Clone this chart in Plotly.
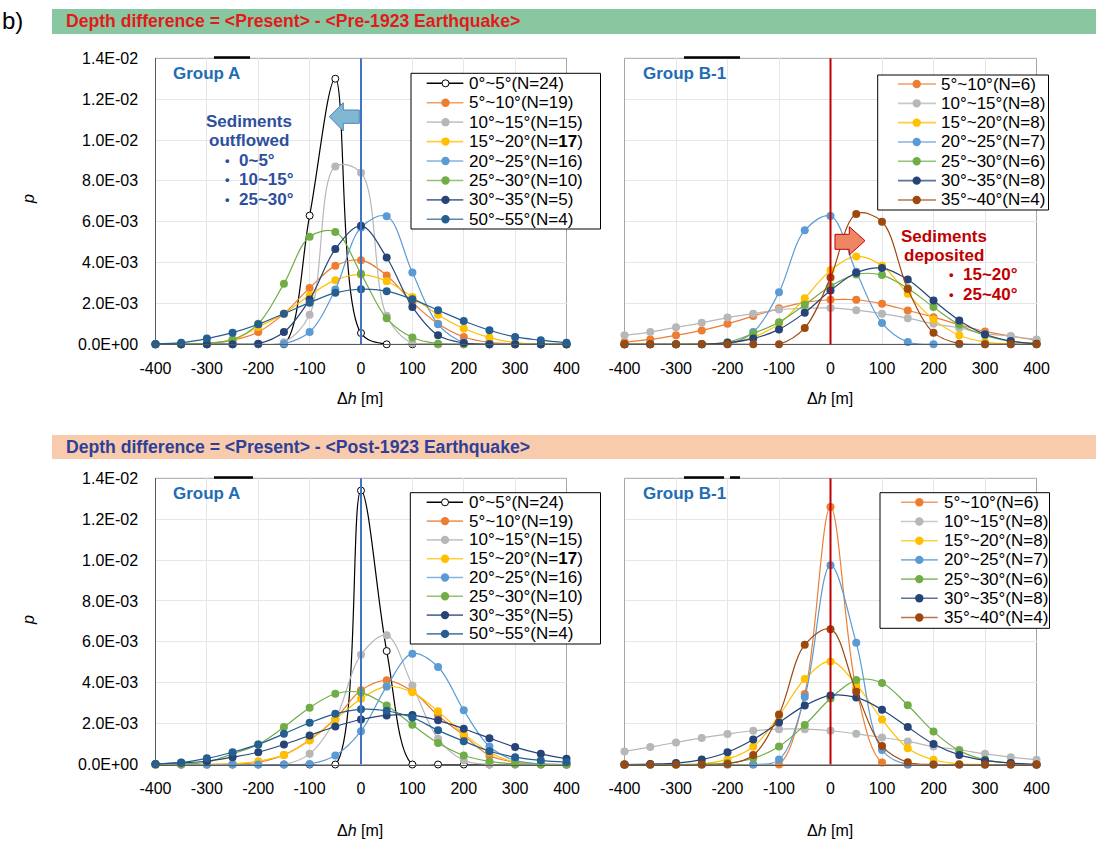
import plotly.graph_objects as go

W, H = 1096, 843

# ---------------- data (p in units of 1E-03) ----------------
dh = [-400, -350, -300, -250, -200, -150, -100, -50, 0, 50, 100, 150, 200, 250, 300, 350, 400]

xtick_vals = [-400, -300, -200, -100, 0, 100, 200, 300, 400]
xtick_text = ['-400', '-300', '-200', '-100', '0', '100', '200', '300', '400']
ytick_vals = [0, 2, 4, 6, 8, 10, 12, 14]
ytick_text = ['0.0E+00', '2.0E-03', '4.0E-03', '6.0E-03', '8.0E-03', '1.0E-02', '1.2E-02', '1.4E-02']

labels_A = ['0°~5°(N=24)', '5°~10°(N=19)', '10°~15°(N=15)', '15°~20°(N=<b>17</b>)',
            '20°~25°(N=16)', '25°~30°(N=10)', '30°~35°(N=5)', '50°~55°(N=4)']
labels_B = ['5°~10°(N=6)', '10°~15°(N=8)', '15°~20°(N=8)', '20°~25°(N=7)',
            '25°~30°(N=6)', '30°~35°(N=8)', '35°~40°(N=4)']

colors_A = ['#000000', '#ed7d31', '#b7b7b7', '#ffc000', '#5b9bd5', '#70ad47', '#264478', '#255e91']
colors_B = ['#ed7d31', '#b7b7b7', '#ffc000', '#5b9bd5', '#70ad47', '#264478', '#9e480e']

# Pre-1923, Group A
preA_0_5   = [0, 0, 0, 0, 0, 0, 6.3, 13.0, 0.55, 0, 0, 0, 0, 0, 0, 0, 0]
preA_5_10  = [0, 0, 0.05, 0.2, 0.6, 1.5, 2.76, 3.84, 4.12, 3.37, 2.05, 1.0, 0.36, 0.1, 0.03, 0, 0]
preA_10_15 = [0, 0, 0, 0, 0, 0.1, 1.45, 8.7, 8.4, 1.4, 0.05, 0, 0, 0, 0, 0, 0]
preA_15_20 = [0, 0, 0.05, 0.2, 0.85, 1.5, 2.4, 3.14, 3.41, 3.09, 2.32, 1.45, 0.77, 0.33, 0.08, 0.02, 0]
preA_20_25 = [0, 0, 0, 0, 0, 0.03, 0.6, 2.68, 5.72, 6.27, 3.51, 0.98, 0.1, 0, 0, 0, 0]
preA_25_30 = [0, 0, 0.05, 0.23, 1.0, 2.97, 5.26, 5.5, 3.45, 1.27, 0.33, 0.03, 0, 0, 0, 0, 0]
preA_30_35 = [0, 0, 0, 0, 0.03, 0.6, 2.19, 4.66, 5.8, 4.25, 1.83, 0.44, 0.06, 0, 0, 0, 0]
preA_50_55 = [0.02, 0.08, 0.28, 0.57, 0.98, 1.5, 2.04, 2.52, 2.7, 2.6, 2.2, 1.67, 1.14, 0.69, 0.36, 0.2, 0.07]

# Pre-1923, Group B-1
preB_5_10  = [0.11, 0.24, 0.44, 0.68, 1.0, 1.38, 1.76, 2.05, 2.18, 2.18, 1.98, 1.66, 1.33, 0.96, 0.63, 0.4, 0.2]
preB_10_15 = [0.44, 0.6, 0.83, 1.05, 1.31, 1.5, 1.7, 1.76, 1.78, 1.67, 1.5, 1.28, 1.0, 0.8, 0.52, 0.4, 0.24]
preB_15_20 = [0, 0, 0, 0.02, 0.03, 0.35, 1.0, 2.26, 3.62, 4.3, 3.85, 2.47, 1.22, 0.44, 0.11, 0.02, 0]
preB_20_25 = [0, 0, 0, 0, 0, 0.6, 2.55, 5.58, 6.28, 3.55, 1.04, 0.11, 0, 0, 0, 0, 0]
preB_25_30 = [0, 0, 0, 0.02, 0.1, 0.53, 1.08, 1.93, 2.84, 3.42, 3.39, 2.74, 1.82, 0.96, 0.44, 0.15, 0.03]
preB_30_35 = [0, 0, 0, 0, 0.08, 0.28, 0.73, 1.55, 2.63, 3.5, 3.73, 3.17, 2.14, 1.17, 0.49, 0.16, 0.03]
preB_35_40 = [0, 0, 0, 0, 0, 0, 0, 0.8, 3.27, 6.38, 6.0, 2.71, 0.57, 0.03, 0, 0, 0]

# Post-1923, Group A
postA_0_5   = [0, 0, 0, 0, 0, 0, 0, 0, 13.4, 5.55, 0, 0, 0, 0, 0, 0, 0]
postA_5_10  = [0, 0, 0, 0.03, 0.11, 0.47, 1.2, 2.24, 3.63, 4.12, 3.58, 2.4, 1.42, 0.44, 0.11, 0.02, 0]
postA_10_15 = [0, 0, 0, 0, 0, 0, 0.52, 2.2, 5.37, 6.32, 3.86, 1.26, 0.2, 0, 0, 0, 0]
postA_15_20 = [0, 0, 0, 0.03, 0.16, 0.47, 1.18, 2.19, 3.22, 3.82, 3.53, 2.6, 1.5, 0.6, 0.11, 0.02, 0]
postA_20_25 = [0, 0, 0, 0, 0, 0, 0.03, 0.44, 1.63, 3.82, 5.42, 4.77, 2.65, 0.88, 0.2, 0.03, 0]
postA_25_30 = [0, 0.02, 0.11, 0.52, 0.98, 1.83, 2.78, 3.46, 3.52, 2.89, 1.94, 1.05, 0.44, 0.15, 0.03, 0, 0]
postA_30_35 = [0.03, 0.08, 0.16, 0.36, 0.6, 0.98, 1.42, 1.86, 2.2, 2.4, 2.42, 2.16, 1.75, 1.29, 0.85, 0.52, 0.28]
postA_50_55 = [0.03, 0.1, 0.3, 0.6, 0.98, 1.5, 2.04, 2.48, 2.7, 2.63, 2.3, 1.67, 1.14, 0.65, 0.36, 0.2, 0.11]

# Post-1923, Group B-1
postB_5_10  = [0, 0, 0, 0, 0, 0, 0, 3.45, 12.6, 3.7, 0.1, 0, 0, 0, 0, 0, 0]
postB_10_15 = [0.64, 0.85, 1.08, 1.3, 1.49, 1.65, 1.73, 1.73, 1.65, 1.5, 1.32, 1.13, 0.88, 0.72, 0.52, 0.36, 0.23]
postB_15_20 = [0, 0, 0, 0.03, 0.26, 0.87, 2.38, 4.18, 5.04, 3.92, 2.2, 0.8, 0.23, 0.03, 0, 0, 0]
postB_20_25 = [0, 0, 0, 0, 0, 0, 0.24, 3.3, 9.75, 5.95, 0.71, 0, 0, 0, 0, 0, 0]
postB_25_30 = [0, 0, 0, 0.02, 0.07, 0.3, 0.88, 1.93, 3.23, 4.13, 3.99, 2.9, 1.61, 0.68, 0.23, 0.07, 0]
postB_30_35 = [0, 0.02, 0.07, 0.24, 0.6, 1.22, 2.05, 2.88, 3.38, 3.28, 2.68, 1.83, 1.0, 0.47, 0.2, 0.07, 0]
postB_35_40 = [0, 0, 0, 0, 0.03, 0.46, 2.45, 5.86, 6.62, 3.56, 0.9, 0.11, 0, 0, 0, 0, 0]

panel_series = {
    1: [preA_0_5, preA_5_10, preA_10_15, preA_15_20, preA_20_25, preA_25_30, preA_30_35, preA_50_55],
    2: [preB_5_10, preB_10_15, preB_15_20, preB_20_25, preB_25_30, preB_30_35, preB_35_40],
    3: [postA_0_5, postA_5_10, postA_10_15, postA_15_20, postA_20_25, postA_25_30, postA_30_35, postA_50_55],
    4: [postB_5_10, postB_10_15, postB_15_20, postB_20_25, postB_25_30, postB_30_35, postB_35_40],
}
panel_labels = {1: labels_A, 2: labels_B, 3: labels_A, 4: labels_B}
panel_colors = {1: colors_A, 2: colors_B, 3: colors_A, 4: colors_B}

FONT = 'Liberation Sans, Arial, sans-serif'


def px(x):
    return x / W


def py(y):
    return 1 - y / H


# panel geometry (pixels)
XL = [155.5 / W, 566.5 / W]
XR = [624.5 / W, 1036.5 / W]
YT = [py(344.3), py(58.3)]
YB = [py(764.5), py(478.3)]
doms = {1: (XL, YT), 2: (XR, YT), 3: (XL, YB), 4: (XR, YB)}

fig = go.Figure()

for p in (1, 2, 3, 4):
    xa = 'x' if p == 1 else f'x{p}'
    ya = 'y' if p == 1 else f'y{p}'
    for i, vals in enumerate(panel_series[p]):
        c = panel_colors[p][i]
        hollow = (c == '#000000')
        fig.add_trace(go.Scatter(
            x=dh, y=vals, mode='lines+markers', xaxis=xa, yaxis=ya,
            name=panel_labels[p][i], showlegend=False, cliponaxis=False,
            line=dict(shape='spline', smoothing=1, width=1.2, color=c),
            marker=dict(size=7 if hollow else 8, color='white' if hollow else c,
                        line=dict(width=1 if hollow else 0, color=c)),
        ))

layout = dict(width=W, height=H, margin=dict(l=0, r=0, t=0, b=0, autoexpand=False),
              paper_bgcolor='white', plot_bgcolor='white',
              font=dict(family=FONT, color='#000000', size=16), showlegend=False)

for p in (1, 2, 3, 4):
    xd, yd = doms[p]
    xk = 'xaxis' if p == 1 else f'xaxis{p}'
    yk = 'yaxis' if p == 1 else f'yaxis{p}'
    xa = 'x' if p == 1 else f'x{p}'
    ya = 'y' if p == 1 else f'y{p}'
    layout[xk] = dict(domain=xd, anchor=ya, range=[-400, 400], tickvals=xtick_vals, ticktext=xtick_text,
                      showgrid=True, gridcolor='#e6e6e6', gridwidth=1, zeroline=False,
                      showline=True, linecolor='#595959', linewidth=1.3, ticks='', automargin=False,
                      tickfont=dict(size=16, color='#000000', family=FONT), ticklabelstandoff=9,
                      fixedrange=True)
    left = p in (1, 3)
    layout[yk] = dict(domain=yd, anchor=xa, range=[0, 14], tickvals=ytick_vals, ticktext=ytick_text,
                      showgrid=True, gridcolor='#e6e6e6', gridwidth=1, zeroline=False,
                      showline=left, linecolor='#595959', linewidth=1.3, ticks='', automargin=False,
                      showticklabels=left, tickfont=dict(size=16, color='#000000', family=FONT),
                      ticklabelstandoff=13, fixedrange=True)

fig.update_layout(**layout)

shapes = []
annots = []

# header bars
shapes.append(dict(type='rect', xref='paper', yref='paper', x0=px(52), x1=1, y0=py(34), y1=py(9),
                   fillcolor='#88c79f', line=dict(width=0), layer='below'))
shapes.append(dict(type='rect', xref='paper', yref='paper', x0=px(52), x1=1, y0=py(459), y1=py(435),
                   fillcolor='#f8cbad', line=dict(width=0), layer='below'))
annots.append(dict(xref='paper', yref='paper', x=px(64), y=py(21), xanchor='left', yanchor='middle',
                   text='<b>Depth difference = &lt;Present&gt; - &lt;Pre-1923 Earthquake&gt;</b>',
                   showarrow=False, font=dict(size=17.6, color='#e31a1c', family=FONT)))
annots.append(dict(xref='paper', yref='paper', x=px(64), y=py(447), xanchor='left', yanchor='middle',
                   text='<b>Depth difference = &lt;Present&gt; - &lt;Post-1923 Earthquake&gt;</b>',
                   showarrow=False, font=dict(size=17.6, color='#2e3f9a', family=FONT)))
annots.append(dict(xref='paper', yref='paper', x=0, y=py(20), xanchor='left', yanchor='middle',
                   text='b)', showarrow=False, font=dict(size=24, color='#000000', family=FONT)))

# frames, zero lines
for p in (1, 2, 3, 4):
    xa = 'x' if p == 1 else f'x{p}'
    ya = 'y' if p == 1 else f'y{p}'
    shapes.append(dict(type='rect', xref=f'{xa} domain', yref=f'{ya} domain', x0=0, x1=1, y0=0, y1=1,
                       line=dict(color='#a6a6a6', width=1), fillcolor='rgba(0,0,0,0)', layer='below'))
    zc = '#4472c4' if p in (1, 3) else '#c00000'
    shapes.append(dict(type='line', xref=xa, yref=f'{ya} domain', x0=0, x1=0, y0=0, y1=1,
                       line=dict(color=zc, width=2), layer='above'))

# small black remnants on top borders
for (x0, x1, yy) in [(214, 250, 57.5), (684, 740, 57.5), (214, 253, 477.5), (684, 724, 477.5), (730, 740, 477.5)]:
    shapes.append(dict(type='line', xref='paper', yref='paper', x0=px(x0), x1=px(x1), y0=py(yy), y1=py(yy),
                       line=dict(color='#000000', width=2.5), layer='above'))

# axis titles
for (cx, cy) in [(360, 398), (830, 398), (360, 830), (830, 830)]:
    annots.append(dict(xref='paper', yref='paper', x=px(cx), y=py(cy), xanchor='center', yanchor='middle',
                       text='Δ<i>h</i> [m]', showarrow=False, font=dict(size=16, color='#000000', family=FONT)))
for cy in (199, 620):
    annots.append(dict(xref='paper', yref='paper', x=px(28), y=py(cy), xanchor='center', yanchor='middle',
                       text='<i>p</i>', textangle=-90, showarrow=False,
                       font=dict(size=16, color='#000000', family=FONT)))

# group labels
for (gx, gy, gt) in [(170.5, 73, 'Group A'), (640.5, 73, 'Group B-1'), (170.5, 493.5, 'Group A'),
                     (640.5, 493.5, 'Group B-1')]:
    annots.append(dict(xref='paper', yref='paper', x=px(gx), y=py(gy), xanchor='left', yanchor='middle',
                       text=f'<b>{gt}</b>', showarrow=False, font=dict(size=17, color='#1f6db3', family=FONT)))


def path(points):
    s = 'M ' + ' L '.join(f'{px(a):.5f},{py(b):.5f}' for a, b in points) + ' Z'
    return s


# blue arrow (left)
shapes.append(dict(type='path', xref='paper', yref='paper',
                   path=path([(329.3, 116.7), (343.3, 102.7), (343.3, 110), (359.3, 110), (359.3, 123.3),
                              (343.3, 123.3), (343.3, 131)]),
                   fillcolor='#80b8d4', line=dict(color='#4f81bd', width=1), layer='above'))
# red arrow (right)
shapes.append(dict(type='path', xref='paper', yref='paper',
                   path=path([(835, 234.3), (849.3, 234.3), (849.3, 226.7), (865, 240.7), (849.3, 255),
                              (849.3, 249.3), (835, 249.3)]),
                   fillcolor='#ee8563', line=dict(color='#c00000', width=1), layer='above'))

blue_t = '#2e4f9e'
red_t = '#c00000'
for (tx, ty, tt) in [(248.5, 122, 'Sediments'), (248.8, 140.5, 'outflowed')]:
    annots.append(dict(xref='paper', yref='paper', x=px(tx), y=py(ty), xanchor='center', yanchor='middle',
                       text=f'<b>{tt}</b>', showarrow=False, font=dict(size=17, color=blue_t, family=FONT)))
for (ty, tt) in [(161, '0~5°'), (180, '10~15°'), (199, '25~30°')]:
    annots.append(dict(xref='paper', yref='paper', x=px(227.5), y=py(ty), xanchor='center', yanchor='middle',
                       text='<b>•</b>', showarrow=False, font=dict(size=13, color=blue_t, family=FONT)))
    annots.append(dict(xref='paper', yref='paper', x=px(237), y=py(ty), xanchor='left', yanchor='middle',
                       text=f'<b>{tt}</b>', showarrow=False, font=dict(size=17, color=blue_t, family=FONT)))
for (tx, ty, tt) in [(944, 236.5, 'Sediments'), (944, 255, 'deposited')]:
    annots.append(dict(xref='paper', yref='paper', x=px(tx), y=py(ty), xanchor='center', yanchor='middle',
                       text=f'<b>{tt}</b>', showarrow=False, font=dict(size=17, color=red_t, family=FONT)))
for (ty, tt) in [(275, '15~20°'), (294.5, '25~40°')]:
    annots.append(dict(xref='paper', yref='paper', x=px(951), y=py(ty), xanchor='center', yanchor='middle',
                       text='<b>•</b>', showarrow=False, font=dict(size=13, color=red_t, family=FONT)))
    annots.append(dict(xref='paper', yref='paper', x=px(961), y=py(ty), xanchor='left', yanchor='middle',
                       text=f'<b>{tt}</b>', showarrow=False, font=dict(size=17, color=red_t, family=FONT)))


# hand-placed legends (Excel-style compact boxes)
def add_legend(box, row0, gap, lx0, lx1, mx, tx, labels, colors):
    bx0, by0, bx1, by1 = box
    shapes.append(dict(type='rect', xref='paper', yref='paper', x0=px(bx0), x1=px(bx1), y0=py(by1), y1=py(by0),
                       fillcolor='white', line=dict(color='#000000', width=1), layer='above'))
    for i, (lab, c) in enumerate(zip(labels, colors)):
        yy = row0 + i * gap
        hollow = (c == '#000000')
        shapes.append(dict(type='line', xref='paper', yref='paper', x0=px(lx0), x1=px(lx1), y0=py(yy), y1=py(yy),
                           line=dict(color=c, width=1.6), opacity=1 if hollow else 0.75, layer='above'))
        r = 3.5 if hollow else 4.2
        shapes.append(dict(type='circle', xref='paper', yref='paper',
                           x0=px(mx - r), x1=px(mx + r), y0=py(yy + r), y1=py(yy - r),
                           fillcolor='white' if hollow else c, line=dict(color=c, width=1 if hollow else 0),
                           layer='above'))
        annots.append(dict(xref='paper', yref='paper', x=px(tx), y=py(yy), xanchor='left', yanchor='middle',
                           text=lab, showarrow=False, font=dict(size=17, color='#000000', family=FONT)))


add_legend((411, 73.3, 600.5, 229), 83.3, 19.43, 426.7, 463.3, 445.5, 467, labels_A, colors_A)
add_legend((877.7, 75, 1048.5, 210), 84, 19.33, 898, 936, 916.7, 939, labels_B, colors_B)
add_legend((410.3, 492.7, 600.5, 644), 502.3, 18.8, 426.7, 463, 445, 467, labels_A, colors_A)
add_legend((880, 492.7, 1049.5, 628.3), 502.3, 19.2, 901, 937.7, 919.3, 941.5, labels_B, colors_B)

fig.update_layout(shapes=shapes, annotations=annots)
fig.write_html('out.html',
               post_script="document.body.style.margin='0px';document.body.style.overflow='hidden';"
                           "document.documentElement.style.overflow='hidden';")
